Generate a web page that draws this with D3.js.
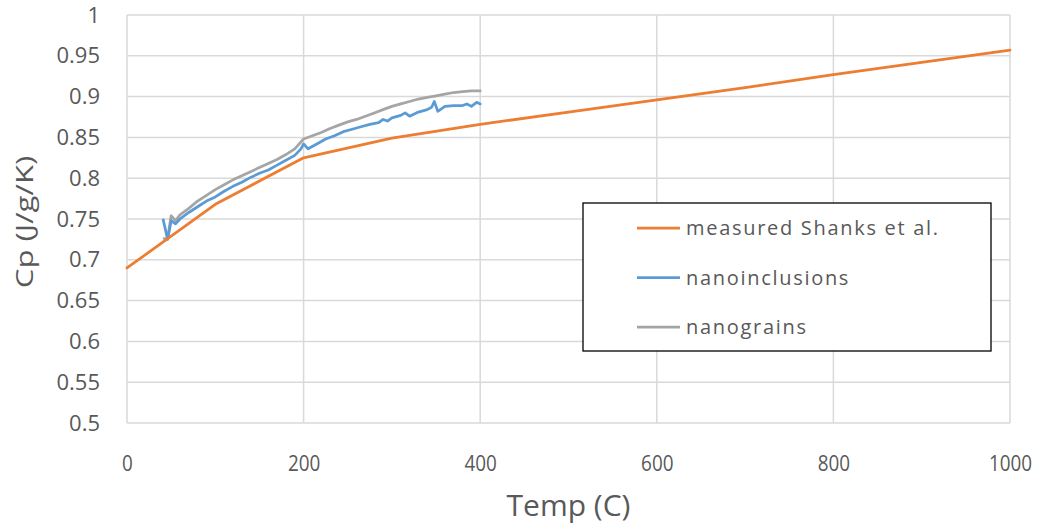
<!DOCTYPE html>
<html>
<head>
<meta charset="utf-8">
<script src="https://cdn.jsdelivr.net/npm/d3@7"></script>
<style>
  body { margin: 0; background: #fff; }
  text { font-family: "Open Sans", "Noto Sans", sans-serif; fill: #595959; }
</style>
</head>
<body>
<div id="chart"></div>
<script>
// ---------------------------------- DATA ---------------------------------- //

let x_ticks = [0, 200, 400, 600, 800, 1000];
let y_ticks = [0.5, 0.55, 0.6, 0.65, 0.7, 0.75, 0.8, 0.85, 0.9, 0.95, 1];

let shanks_temp = [0, 100, 200, 300, 400, 500, 600, 700, 800, 900, 1000];
let shanks_cp = [0.69, 0.768, 0.825, 0.849, 0.866, 0.881, 0.896, 0.911, 0.927, 0.942, 0.957];

let incl_temp = [41, 46, 50, 55, 60, 70, 80, 90, 100, 110, 120, 130, 140, 150, 160, 170, 180, 190, 197, 200,
  205, 215, 225, 235, 245, 255, 265, 275, 285, 290, 295, 300, 310, 315, 320, 330, 340, 345, 348, 352,
  360, 370, 380, 385, 390, 396, 400];
let incl_cp = [0.749, 0.725, 0.748, 0.744, 0.750, 0.758, 0.765, 0.772, 0.777, 0.784, 0.790, 0.795, 0.801, 0.806, 0.810, 0.816, 0.822, 0.828, 0.836, 0.842,
  0.836, 0.842, 0.848, 0.852, 0.857, 0.860, 0.863, 0.866, 0.868, 0.872, 0.870, 0.874, 0.877, 0.880, 0.876, 0.881, 0.884, 0.887, 0.894, 0.882,
  0.888, 0.889, 0.889, 0.891, 0.888, 0.893, 0.891];

let grain_temp = [42, 46, 50, 55, 60, 70, 80, 90, 100, 110, 120, 130, 140, 150, 160, 170, 180, 190, 200,
  210, 220, 230, 240, 250, 260, 270, 280, 290, 300, 310, 320, 330, 340, 350, 360, 370, 380, 390, 400];
let grain_cp = [0.726, 0.726, 0.754, 0.748, 0.755, 0.763, 0.772, 0.779, 0.786, 0.792, 0.798, 0.803, 0.808, 0.813, 0.818, 0.823, 0.829, 0.836, 0.848,
  0.852, 0.856, 0.861, 0.865, 0.869, 0.872, 0.876, 0.880, 0.884, 0.888, 0.891, 0.894, 0.897, 0.899, 0.901, 0.903, 0.905, 0.906, 0.907, 0.907];

let series_names = ['measured Shanks et al.', 'nanoinclusions', 'nanograins'];
let series_colors = ['#ED7D31', '#5B9BD5', '#A5A5A5'];

// ---------------------------------- SETTINGS ---------------------------------- //

let img_width = 1043;
let img_height = 527;
let plot_left = 127;
let plot_right = 1010;
let plot_top = 15;
let plot_bottom = 423;
let grid_color = '#d9d9d9';

// ---------------------------------- CORE IMAGE ---------------------------------- //

let svg = d3.select('#chart').append('svg')
  .attr('width', img_width)
  .attr('height', img_height);

let x = d3.scaleLinear().domain([0, 1000]).range([plot_left, plot_right]);
let y = d3.scaleLinear().domain([0.5, 1]).range([plot_bottom, plot_top]);

// gridlines
svg.append('g')
  .selectAll('line')
  .data(y_ticks)
  .enter()
  .append('line')
  .attr('x1', plot_left)
  .attr('x2', plot_right)
  .attr('y1', d => y(d))
  .attr('y2', d => y(d))
  .attr('stroke', grid_color)
  .attr('stroke-width', 1.5);

svg.append('g')
  .selectAll('line')
  .data(x_ticks)
  .enter()
  .append('line')
  .attr('x1', d => x(d))
  .attr('x2', d => x(d))
  .attr('y1', plot_top)
  .attr('y2', plot_bottom)
  .attr('stroke', grid_color)
  .attr('stroke-width', 1.5);

// tick labels via axes
let y_axis = svg.append('g')
  .attr('transform', `translate(${plot_left},0)`)
  .call(d3.axisLeft(y).tickValues(y_ticks).tickSize(0).tickPadding(27).tickFormat(d3.format('')));
let x_axis = svg.append('g')
  .attr('transform', `translate(0,${plot_bottom})`)
  .call(d3.axisBottom(x).tickValues(x_ticks).tickSize(0).tickPadding(31).tickFormat(d3.format('')));

[y_axis, x_axis].forEach(function(a) {
  a.select('.domain').remove();
  a.selectAll('text')
    .style('font-size', '22px')
    .style('fill', '#595959');
});
// x labels look a bit narrower in the original
x_axis.selectAll('.tick text')
  .style('font-size', '21px')
  .attr('transform', 'scale(0.9,1.05)');

// axis titles
svg.append('text')
  .attr('x', (plot_left + plot_right) / 2)
  .attr('y', 516)
  .attr('text-anchor', 'middle')
  .style('font-size', '30px')
  .text('Temp (C)');

svg.append('text')
  .attr('transform', 'translate(33,222) rotate(-90) scale(1.3,1)')
  .attr('text-anchor', 'middle')
  .style('font-size', '24px')
  .text('Cp (J/g/K)');

// ---------------------------------- LINES ---------------------------------- //

let line = d3.line().x(d => x(d[0])).y(d => y(d[1]));

let series = [
  d3.zip(shanks_temp, shanks_cp),
  d3.zip(incl_temp, incl_cp),
  d3.zip(grain_temp, grain_cp)
];

// draw grains under inclusions, orange on top
[2, 1, 0].forEach(function(i) {
  svg.append('path')
    .datum(series[i])
    .attr('d', line)
    .attr('fill', 'none')
    .attr('stroke', series_colors[i])
    .attr('stroke-width', 2.75)
    .attr('stroke-linejoin', 'round')
    .attr('stroke-linecap', 'round');
});

// ---------------------------------- LEGEND ---------------------------------- //

let legend = svg.append('g').attr('transform', 'translate(583,203)');
legend.append('rect')
  .attr('width', 408)
  .attr('height', 148)
  .attr('fill', '#fff')
  .attr('stroke', '#000')
  .attr('stroke-width', 1.3);

let legend_rows = legend.selectAll('g.row')
  .data(series_names)
  .enter()
  .append('g')
  .attr('class', 'row')
  .attr('transform', (d, i) => `translate(0,${25 + i * 49.5})`);

legend_rows.append('line')
  .attr('x1', 54)
  .attr('x2', 97)
  .attr('stroke', (d, i) => series_colors[i])
  .attr('stroke-width', 2.75);

legend_rows.append('text')
  .attr('x', 103)
  .attr('dy', '0.35em')
  .style('font-size', '20px')
  .style('letter-spacing', '1.7px')
  .text(d => d);
</script>
</body>
</html>
